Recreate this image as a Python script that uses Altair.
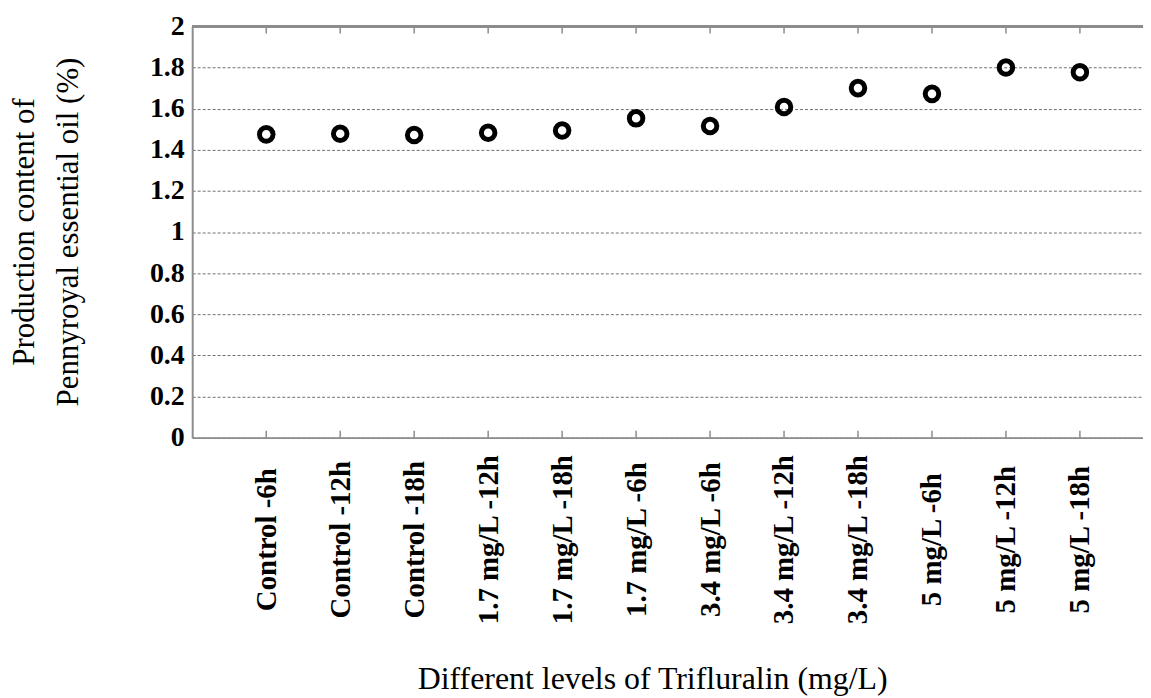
import altair as alt
import pandas as pd

categories = ["Control -6h", "Control -12h", "Control -18h", "1.7 mg/L -12h", "1.7 mg/L -18h",
              "1.7 mg/L -6h", "3.4 mg/L -6h", "3.4 mg/L -12h", "3.4 mg/L -18h",
              "5 mg/L -6h", "5 mg/L -12h", "5 mg/L -18h"]
values = [1.475, 1.478, 1.472, 1.483, 1.494, 1.553, 1.516, 1.608, 1.700, 1.672, 1.800, 1.777]
y_ticks = [0, 0.2, 0.4, 0.6, 0.8, 1.0, 1.2, 1.4, 1.6, 1.8, 2.0]

df = pd.DataFrame({"cat": categories, "val": values})

W, H = 955, 413
FONT = "Liberation Serif"
GRAY = "#8c8c8c"

xscale = alt.Scale(type="point", domain=categories, padding=0.927, align=0.54)
yscale = alt.Scale(domain=[0, 2], nice=False, zero=True)

x_axis = alt.Axis(title="Different levels of Trifluralin (mg/L)", titleFont=FONT, titleFontSize=32,
                  titleFontWeight="normal", titleColor="black", titleX=462, titleY=252,
                  titleAlign="center", titleBaseline="alphabetic",
                  labelFont=FONT, labelFontSize=29, labelFontWeight="bold", labelColor="black",
                  labelAngle=270, labelAlign="center", labelBaseline="middle", labelPadding=102,
                  labelLimit=400, labelOverlap=False, ticks=False, grid=False,
                  domainColor=GRAY, domainWidth=2)
y_axis = alt.Axis(title=["Production  content of", "Pennyroyal essential oil (%)"],
                  titleFont=FONT, titleFontSize=31, titleFontWeight="normal", titleColor="black",
                  titleAngle=270, titleAlign="center", titleBaseline="middle", titleLineHeight=44,
                  titleX=-168, titleY=206,
                  values=y_ticks, format="~g", labelFont=FONT, labelFontSize=28, labelFontWeight="bold",
                  labelColor="black", labelPadding=8, ticks=False,
                  grid=True, gridColor="#707070", gridDash=[3, 2], gridWidth=1,
                  domainColor=GRAY, domainWidth=2)

points = alt.Chart(df).mark_point(shape="circle", filled=False, color="black", strokeWidth=5,
                                  size=185, opacity=1).encode(
    x=alt.X("cat:N", scale=xscale, axis=x_axis, sort=categories),
    y=alt.Y("val:Q", scale=yscale, axis=y_axis),
)

top_ticks = alt.Chart(df).mark_rule(color=GRAY, strokeWidth=1.5).encode(
    x=alt.X("cat:N", scale=xscale, sort=categories), y=alt.value(0), y2=alt.value(7))
bottom_ticks = alt.Chart(df).mark_rule(color=GRAY, strokeWidth=1.5).encode(
    x=alt.X("cat:N", scale=xscale, sort=categories), y=alt.value(H - 7), y2=alt.value(H))
top_border = alt.Chart(df).mark_rule(color=GRAY, strokeWidth=2).encode(
    x=alt.value(0), x2=alt.value(W), y=alt.value(0))

chart = alt.layer(points, top_ticks, bottom_ticks, top_border).properties(
    width=W, height=H,
    autosize=alt.AutoSizeParams(type="none"),
    padding={"left": 185, "top": 17, "right": 0, "bottom": 260},
    background="white",
).configure_view(stroke=None)

chart.save("out.html", embed_options={"renderer": "svg", "actions": False})
